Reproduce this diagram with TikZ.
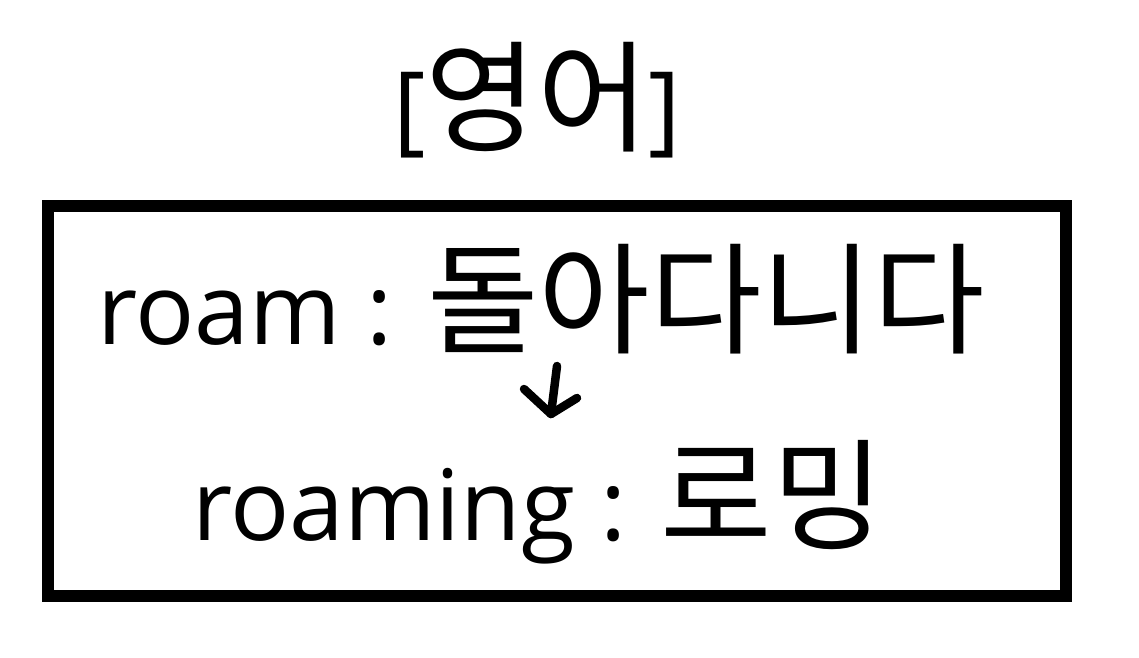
\documentclass[tikz,border=0pt]{standalone}
\usepackage{fontspec}
\setmainfont{Open Sans}
\newfontfamily\kr{Noto Sans CJK KR}
\usepackage{tikz}
\usetikzlibrary{positioning}
\newcommand\hg[1]{{\kr\fontsize{69}{74}\selectfont #1}}

\begin{document}
\begin{tikzpicture}[x=0.02cm,y=-0.02cm,font=\fontsize{56}{62}\selectfont,
  hand/.style={line width=0.17cm,line cap=round,line join=round}]
  \useasboundingbox (0,0) rectangle (1139,657);
  \node[anchor=base] (title) at (537,142) {[\hg{영어}]};
  \node[draw,line width=0.24cm,minimum width=20.36cm,minimum height=7.8cm] (box) at (557,401) {};
  \node[anchor=base] (roam) at (541,344) {roam : \hg{돌아다니다}};
  \node[anchor=base] (roaming) at (538,540) {roaming : \hg{로밍}};
  \coordinate (arrtop) at (557,366);
  \coordinate (arrtip) at (551,414);
  \coordinate (arrl) at (524,389);
  \coordinate (arrr) at (577,398);
  \draw[hand] (arrtop) -- (arrtip);
  \draw[hand] (arrl) -- (arrtip) -- (arrr);
\end{tikzpicture}
\end{document}
